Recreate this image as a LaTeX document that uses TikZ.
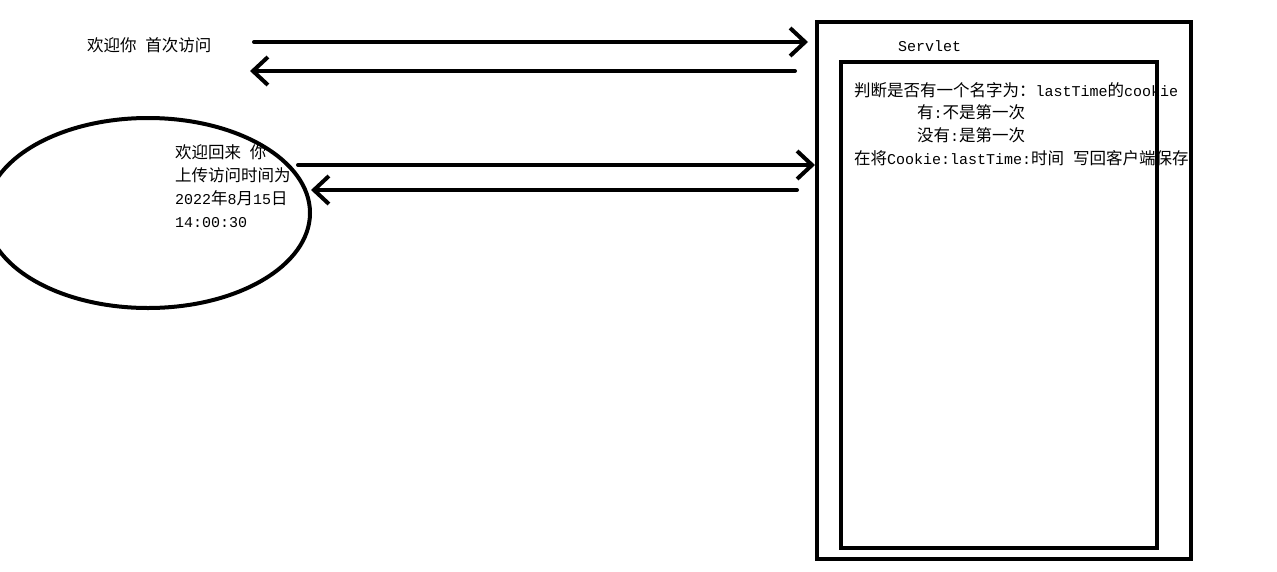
\documentclass[tikz,border=0pt]{standalone}
\usepackage{fontspec}
\setmainfont{Liberation Mono}
\newfontfamily\cjk{Noto Sans CJK SC}
\newcommand\zh[1]{{\cjk\fontsize{16.5}{23}\selectfont #1}}
\usetikzlibrary{arrows.meta}
\begin{document}
\begin{tikzpicture}[x=1pt,y=-1pt,line width=4pt,
  lbl/.style={anchor=base west,inner sep=0pt,font=\fontsize{15}{23}\selectfont},
  arr/.style={-{Straight Barb[length=15pt,width=28pt]},line cap=round,line join=round}]
\useasboundingbox (0,0) rectangle (1277,571);
% texts
\node[lbl] (first) at (85,51) {\zh{欢迎你} \zh{首次访问}};
\node[lbl] (servlet) at (896,51) {Servlet};
\node[lbl] (s1) at (852,96) {\zh{判断是否有一个名字为：}lastTime\zh{的}cookie};
\node[lbl] (s2) at (915,118) {\zh{有}:\zh{不是第一次}};
\node[lbl] (s3) at (915,141) {\zh{没有}:\zh{是第一次}};
\node[lbl] (s4) at (852,164) {\zh{在将}Cookie:lastTime:\zh{时间} \zh{写回客户端保存}};
\node[lbl] (e1) at (173,158) {\zh{欢迎回来} \zh{你}};
\node[lbl] (e2) at (173,181) {\zh{上传访问时间为}};
\node[lbl] (e3) at (173,204) {2022\zh{年}8\zh{月}15\zh{日}};
\node[lbl] (e4) at (173,227) {14:00:30};
% shapes
\draw[line width=4.5pt] (817,22) rectangle (1191,559);
\node[draw,line width=4pt,minimum width=316pt,minimum height=486pt,inner sep=0pt] (inner) at (999,305) {};
\draw (148,213) ellipse [x radius=162, y radius=95];
\node[inner sep=0pt,minimum size=0pt] (client) at (148,213) {};
% connectors
\coordinate (a1s) at (254,42); \coordinate (a1e) at (808,42);
\coordinate (a2s) at (795,71); \coordinate (a2e) at (250,71);
\coordinate (a3s) at (298,165); \coordinate (a3e) at (815,165);
\coordinate (a4s) at (797,190); \coordinate (a4e) at (311,190);
\draw[arr] (a1s) -- (a1e);
\draw[arr] (a2s) -- (a2e);
\draw[arr] (a3s) -- (a3e);
\draw[arr] (a4s) -- (a4e);
\end{tikzpicture}
\end{document}
